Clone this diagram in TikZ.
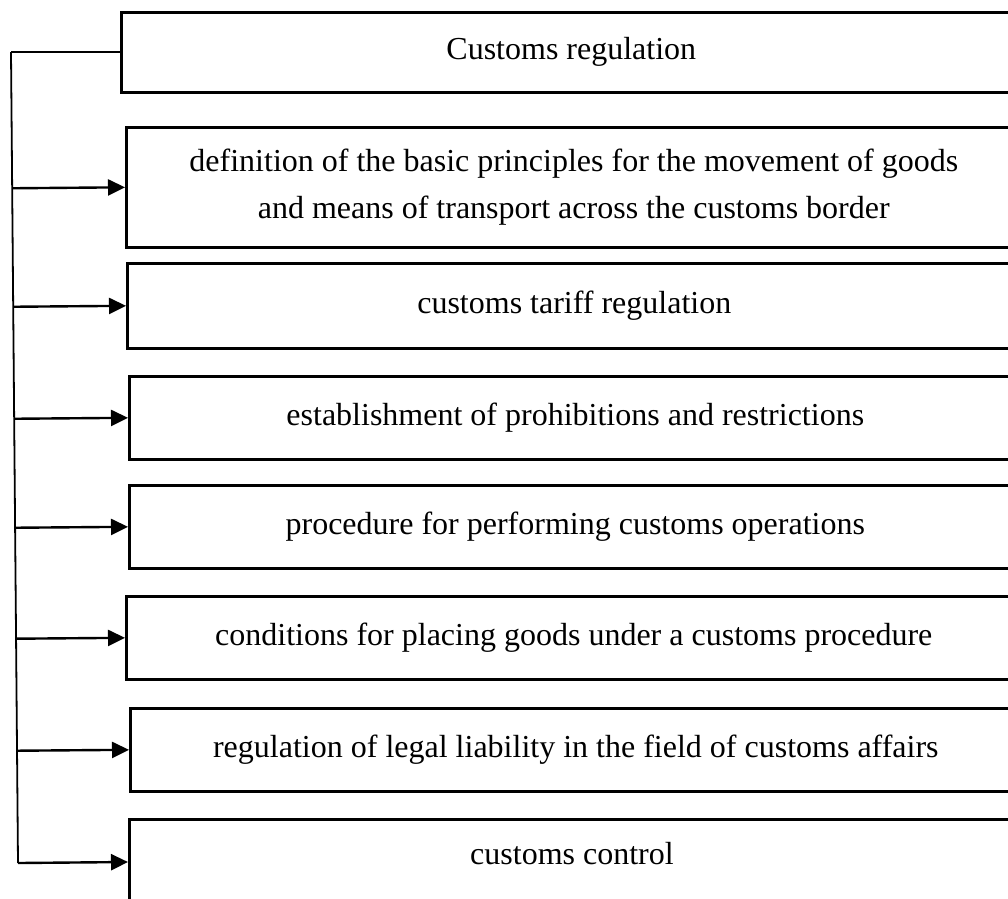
\documentclass[tikz,border=0pt]{standalone}
\usepackage{fontspec}
\setmainfont{Liberation Serif}
\usetikzlibrary{arrows.meta,calc}
\begin{document}
\begin{tikzpicture}[x=1pt,y=-1pt,
  boxnode/.style={draw=black,line width=2.6pt,inner sep=0pt,anchor=north west,align=center,
    font=\fontsize{32}{47}\selectfont},
  conn/.style={line width=2.4pt,black},
  arr/.style={conn,-{Triangle[length=17pt,width=16pt]}},
  spine/.style={line width=1.8pt,black}]
\useasboundingbox (0,0) rectangle (1008,898);
\clip (0,0) rectangle (1008,898);
\node[boxnode,minimum width=900pt,minimum height=80pt] (b1) at (120,11) {Customs regulation};
\node[boxnode,minimum width=895pt,minimum height=120pt] (b2) at (125,126) {definition of the basic principles for the movement of goods\\and means of transport across the customs border};
\node[boxnode,minimum width=894pt,minimum height=85pt] (b3) at (126,262) {customs tariff regulation};
\node[boxnode,minimum width=892pt,minimum height=83pt] (b4) at (128,375) {establishment of prohibitions and restrictions};
\node[boxnode,minimum width=892pt,minimum height=83pt] (b5) at (128,484) {procedure for performing customs operations};
\node[boxnode,minimum width=895pt,minimum height=83pt] (b6) at (125,595) {conditions for placing goods under a customs procedure};
\node[boxnode,minimum width=891pt,minimum height=83pt] (b7) at (129,707) {regulation of legal liability in the field of customs affairs};
\node[boxnode,minimum width=892pt,minimum height=160pt] (b8) at (128,818) {};
\node[font=\fontsize{32}{47}\selectfont,inner sep=0pt,anchor=base] (t8) at (572,864) {customs control};
\coordinate (top) at (11,52);
\coordinate (bot) at (18,863);
\coordinate (e8) at (b8.north west |- 0,862);
\draw[spine] (top) -- (bot);
\draw[conn] (top) -- (b1.west |- top);
\foreach \b in {b2,b3,b4,b5,b6,b7}{
  \draw[arr] ($(top)!(\b.west)!(bot)$) -- (\b.west);
}
\draw[arr] (bot) -- (e8);
\end{tikzpicture}
\end{document}
